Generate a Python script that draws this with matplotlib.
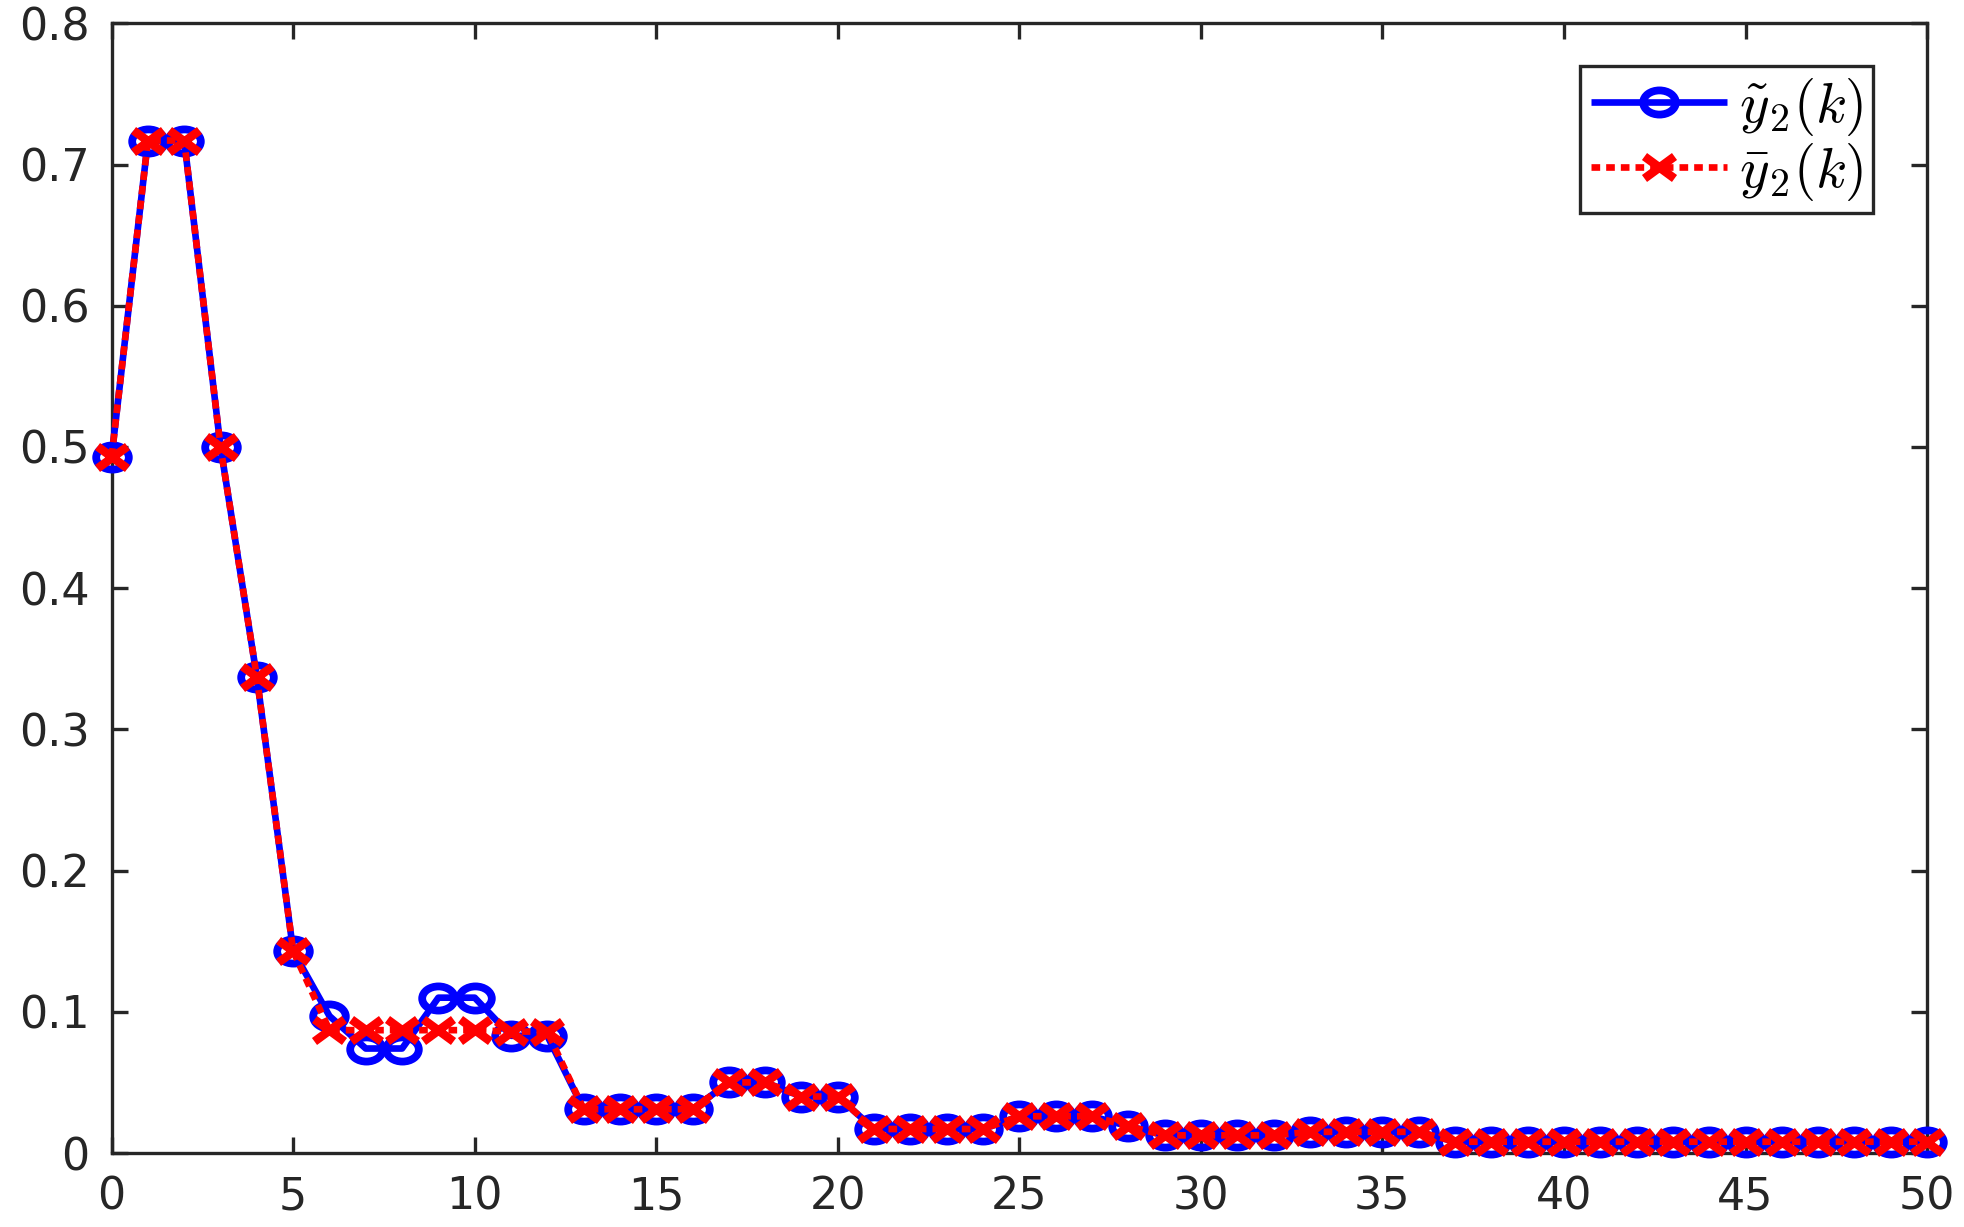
import matplotlib
matplotlib.use("Agg")
import matplotlib.pyplot as plt
from matplotlib.markers import MarkerStyle
from matplotlib.transforms import Affine2D
import numpy as np

k = list(range(51))
y_tilde = [0.493, 0.717, 0.717, 0.500, 0.337, 0.143, 0.097, 0.074, 0.074, 0.110,
           0.110, 0.083, 0.083, 0.031, 0.031, 0.031, 0.031, 0.050, 0.050, 0.040,
           0.040, 0.017, 0.017, 0.017, 0.017, 0.026, 0.026, 0.026, 0.019, 0.0125,
           0.0125, 0.0125, 0.0125, 0.015, 0.015, 0.015, 0.015, 0.008, 0.008, 0.008,
           0.008, 0.008, 0.008, 0.008, 0.008, 0.008, 0.008, 0.008, 0.008, 0.008,
           0.008]
y_bar = [0.493, 0.717, 0.717, 0.500, 0.337, 0.143, 0.087, 0.087, 0.087, 0.087,
         0.087, 0.086, 0.086, 0.031, 0.031, 0.031, 0.031, 0.050, 0.050, 0.040,
         0.040, 0.017, 0.017, 0.017, 0.017, 0.026, 0.026, 0.026, 0.019, 0.0125,
         0.0125, 0.0125, 0.0125, 0.015, 0.015, 0.015, 0.015, 0.008, 0.008, 0.008,
         0.008, 0.008, 0.008, 0.008, 0.008, 0.008, 0.008, 0.008, 0.008, 0.008,
         0.008]
xticks = [0, 5, 10, 15, 20, 25, 30, 35, 40, 45, 50]
yticks = [0, 0.1, 0.2, 0.3, 0.4, 0.5, 0.6, 0.7, 0.8]
labels = [r'$\tilde{y}_2(k)$', r'$\bar{y}_2(k)$']

plt.rcParams['font.family'] = ['DejaVu Sans']
plt.rcParams['mathtext.fontset'] = 'cm'

fig = plt.figure(figsize=(19.65, 12.27), dpi=100)
ax = fig.add_axes([0.0568, 0.0603, 0.9239, 0.9207])

sq = Affine2D().scale(1.0, 0.74)
m_o = MarkerStyle('o', fillstyle='none', transform=sq)
m_x = MarkerStyle('x', transform=sq)

ax.plot(k, y_tilde, color='#0000ff', lw=4.8, marker=m_o, markersize=23.5,
        markeredgewidth=5.6, markeredgecolor='#0000ff', markerfacecolor='none',
        label=labels[0], solid_capstyle='butt', clip_on=False, zorder=3)
ax.plot(k, y_bar, color='#ff0000', lw=4.8, linestyle=(0, (1.3, 0.9)),
        marker=m_x, markersize=21, markeredgewidth=6.2, markeredgecolor='#ff0000',
        label=labels[1], dash_capstyle='butt', clip_on=False, zorder=4)

ax.set_xlim(0, 50)
ax.set_ylim(0, 0.8)
ax.set_xticks(xticks)
ax.set_yticks(yticks)
ax.set_xticklabels([str(v) for v in xticks])
ax.set_yticklabels(['0'] + [f'{v:.1f}' for v in yticks[1:]])

axc = '#262626'
for s in ax.spines.values():
    s.set_linewidth(2.4)
    s.set_color(axc)
    s.set_zorder(2)
ax.tick_params(axis='both', which='major', direction='in', length=11.5, width=2.4,
               color=axc, labelcolor=axc, labelsize=32, top=True, right=True)
ax.tick_params(axis='x', pad=16)
ax.tick_params(axis='y', pad=16)

leg = ax.legend(loc='upper right', bbox_to_anchor=(0.9703, 0.9625), borderaxespad=0,
                fontsize=41, handlelength=2.4, frameon=True, fancybox=False,
                framealpha=1, edgecolor=axc, borderpad=0.18, labelspacing=0.05,
                handletextpad=0.2)
leg.get_frame().set_linewidth(2.4)
leg.set_zorder(5)

fig.savefig('out.png', dpi=100, facecolor='white')
